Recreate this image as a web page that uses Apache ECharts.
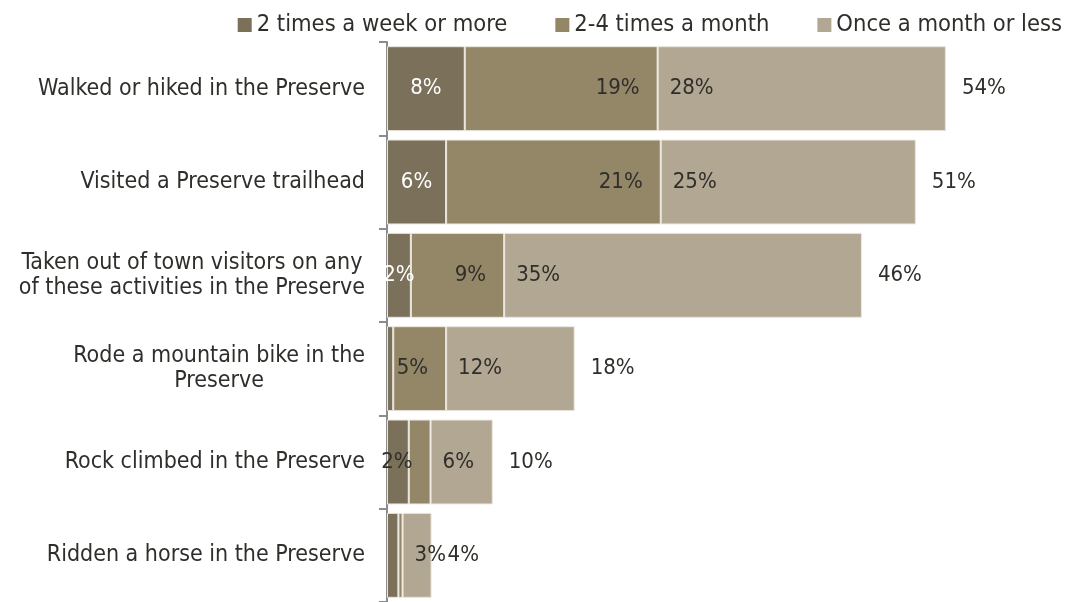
<!DOCTYPE html>
<html>
<head>
<meta charset="utf-8">
<script src="https://cdn.jsdelivr.net/npm/echarts@6/dist/echarts.min.js"></script>
<style>
html,body{margin:0;padding:0;background:#fff;}
#chart{width:1068px;height:602px;}
</style>
</head>
<body>
<div id="chart"></div>
<script>
var categories = [
  "Walked or hiked in the Preserve",
  "Visited a Preserve trailhead",
  "Taken out of town visitors on any\nof these activities in the Preserve",
  "Rode a mountain bike in the\nPreserve",
  "Rock climbed in the Preserve",
  "Ridden a horse in the Preserve"
];
var seriesNames = ["2 times a week or more", "2-4 times a month", "Once a month or less"];
var weekly  = [7.5, 5.7, 2.3, 0.6, 2.1, 1.1];
var monthly = [18.6, 20.7, 9.0, 5.1, 2.1, 0.4];
var rarely  = [27.8, 24.6, 34.5, 12.4, 6.0, 2.8];

var totals = categories.map(function (c, i) { return weekly[i] + monthly[i] + rarely[i]; });

var FONT = "'DejaVu Sans Condensed', 'DejaVu Sans', sans-serif";
var TXT = '#2f2e2a';
var colors = ['#7b7059', '#948768', '#b2a793'];

function pctMin(min) {
  return function (p) { return p.value < min ? '' : Math.round(p.value) + '%'; };
}

var chart = echarts.init(document.getElementById('chart'));
chart.setOption({
  animation: false,
  textStyle: { fontFamily: FONT },
  legend: {
    data: seriesNames,
    top: 8, right: 1,
    icon: 'rect', itemWidth: 14, itemHeight: 14, itemGap: 48,
    itemStyle: { borderWidth: 0 },
    textStyle: { fontFamily: FONT, fontSize: 23.5, color: TXT, padding: [0, 0, 0, 0] }
  },
  grid: { left: 387, right: 7, top: 42, bottom: 0, containLabel: false },
  xAxis: {
    type: 'value', min: 0, max: 65,
    show: false, splitLine: { show: false }
  },
  yAxis: {
    type: 'category', data: categories, inverse: true,
    axisLine: { show: true, lineStyle: { color: '#8c8c8c', width: 2 } },
    axisTick: { show: true, inside: false, alignWithLabel: false, length: 8, lineStyle: { color: '#8c8c8c', width: 2 } },
    splitLine: { show: false },
    axisLabel: {
      margin: 22,
      formatter: function (v) {
        return v.split('\n').map(function (l) { return '{c|' + l + '}'; }).join('\n');
      },
      rich: { c: { align: 'center', fontFamily: FONT, fontSize: 23, color: TXT, lineHeight: 25 } }
    }
  },
  series: [
    {
      name: seriesNames[0], type: 'bar', stack: 'a', data: weekly,
      barCategoryGap: '9%',
      itemStyle: { color: colors[0], borderColor: '#ebe7df', borderWidth: 1 },
      label: { show: true, position: 'inside', color: '#ffffff', fontSize: 22, fontFamily: FONT, formatter: pctMin(2.2) }
    },
    {
      name: seriesNames[1], type: 'bar', stack: 'a', data: monthly,
      itemStyle: { color: colors[1], borderColor: '#ebe7df', borderWidth: 1 },
      label: { show: true, position: 'insideRight', distance: 18, color: TXT, fontSize: 22, fontFamily: FONT, formatter: pctMin(1.5) }
    },
    {
      name: seriesNames[2], type: 'bar', stack: 'a', data: rarely,
      itemStyle: { color: colors[2], borderColor: '#ebe7df', borderWidth: 1 },
      label: { show: true, position: 'insideLeft', distance: 12, color: TXT, fontSize: 22, fontFamily: FONT, formatter: pctMin(1.5) }
    },
    {
      name: 'Total', type: 'bar', data: totals, barGap: '-100%', z: 1,
      itemStyle: { color: 'rgba(0,0,0,0)' },
      label: {
        show: true, position: 'right', distance: 16, color: TXT, fontSize: 22, fontFamily: FONT,
        formatter: function (p) { return Math.round(p.value) + '%'; }
      }
    }
  ],
  labelLayout: { hideOverlap: true }
});
</script>
</body>
</html>
